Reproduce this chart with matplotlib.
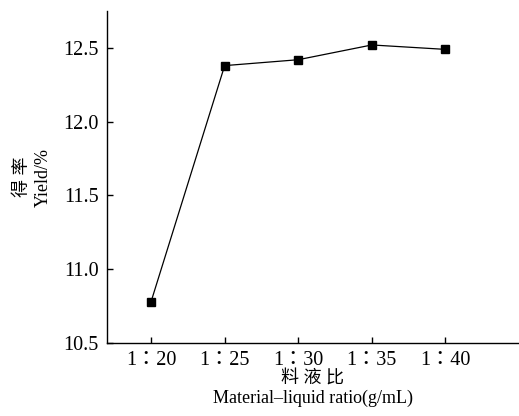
import matplotlib
matplotlib.use('Agg')
import matplotlib.pyplot as plt

plt.rcParams['font.family'] = ['Liberation Serif', 'Noto Sans CJK SC']
plt.rcParams['axes.unicode_minus'] = False

ratios = ['1：20', '1：25', '1：30', '1：35', '1：40']
yields = [10.78, 12.38, 12.42, 12.52, 12.49]
y_ticks = [10.5, 11.0, 11.5, 12.0, 12.5]


def main():
    fig = plt.figure(figsize=(5.19, 4.16), dpi=100)
    ax = fig.add_axes([0.206, 0.1755, 0.794, 0.798])

    x = list(range(len(ratios)))
    ax.plot(x, yields, '-', color='black', linewidth=0.9,
            marker='s', markersize=6, markerfacecolor='black')

    ax.set_xlim(-0.6, 5.0)
    ax.set_ylim(10.5, 12.75)
    ax.set_xticks(x)
    # TC font centres the full-width colon like the original
    ax.set_xticklabels(ratios, family=['Liberation Serif', 'Noto Sans CJK TC'])
    ax.set_yticks(y_ticks)
    ax.set_yticklabels([f'{v:.1f}' for v in y_ticks])

    ax.spines['top'].set_visible(False)
    ax.spines['right'].set_visible(False)
    for s in ('left', 'bottom'):
        ax.spines[s].set_linewidth(1.0)
    ax.tick_params(direction='in', length=4, width=1.0, labelsize=14.5, pad=6)

    ax.set_ylabel('得 率\nYield/%', fontsize=13, linespacing=1.3, labelpad=8)
    ax.set_xlabel('料 液 比\nMaterial–liquid ratio(g/mL)', fontsize=13,
                  linespacing=1.15, labelpad=0)

    fig.savefig('out.png', dpi=100)


if __name__ == '__main__':
    main()
